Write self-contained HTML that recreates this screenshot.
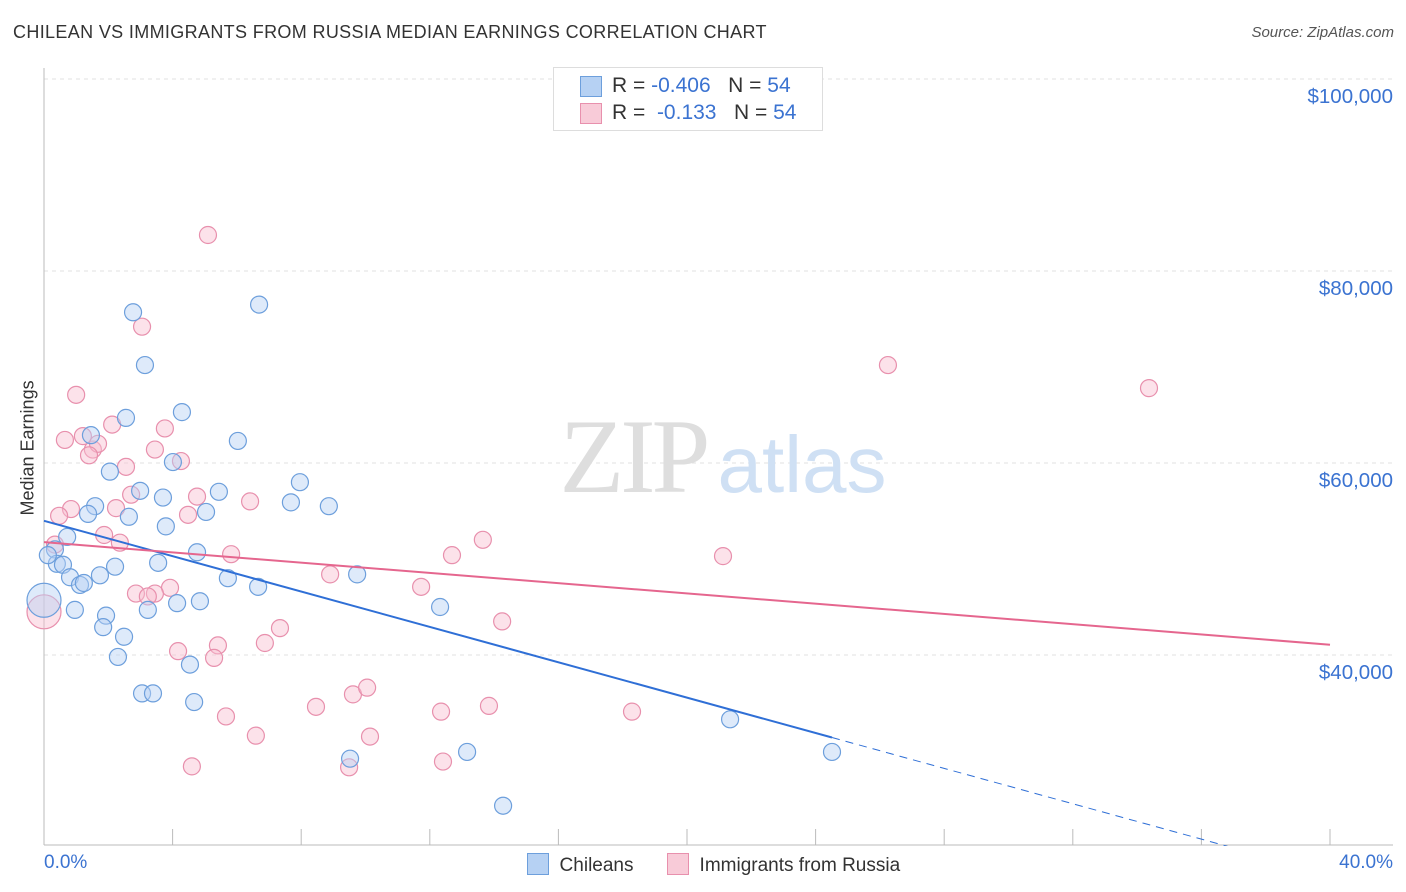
<!DOCTYPE html>
<html><head><meta charset="utf-8"><style>
body{margin:0;background:#fff;font-family:"Liberation Sans",sans-serif;}
#wrap{position:relative;width:1406px;height:892px;overflow:hidden;}
.t{position:absolute;white-space:nowrap;}
</style></head><body>
<div id="wrap">
<div class="t" style="left:13px;top:22px;font-size:18px;color:#333;letter-spacing:0.35px">CHILEAN VS IMMIGRANTS FROM RUSSIA MEDIAN EARNINGS CORRELATION CHART</div>
<div class="t" style="right:12px;top:24px;font-size:15px;color:#555;font-style:italic">Source: ZipAtlas.com</div>
<svg id="svg" width="1406" height="892" style="position:absolute;left:0;top:0"></svg>
</div>
<script>
const yTicks=[40000,60000,80000,100000];
const yTickLabels=["$40,000","$60,000","$80,000","$100,000"];
const xLabels=["0.0%","40.0%"];
const chileX=[2.77,6.69,3.14,2.55,4.29,6.03,1.46,4.01,2.05,7.96,2.99,1.59,3.70,5.44,1.37,2.64,5.04,7.68,8.86,3.79,0.72,0.34,4.76,0.40,0.59,3.55,2.21,0.81,1.74,1.12,5.72,6.66,9.74,0,0.96,1.93,3.23,4.14,4.85,12.32,1.84,2.49,2.30,4.54,3.05,3.39,4.67,21.34,9.52,13.16,24.51,14.28,0.12,1.24];
const chileY=[75.7,76.5,70.2,64.7,65.3,62.3,62.9,60.1,59.1,58.0,57.1,55.5,56.4,57.0,54.7,54.4,54.9,55.9,55.5,53.4,52.3,51.0,50.7,49.5,49.4,49.6,49.2,48.1,48.3,47.3,48.0,47.1,48.4,45.7,44.7,44.1,44.7,45.4,45.6,45.0,42.9,41.9,39.8,39.0,36.0,36.0,35.1,33.3,29.2,29.9,29.9,24.3,50.4,47.5];
const russX=[5.10,3.05,26.25,34.37,1.00,0.65,3.76,1.52,1.21,1.68,2.55,4.26,3.45,0.84,0.47,2.71,2.24,4.76,6.41,4.48,1.87,2.36,0.34,5.82,13.65,12.69,21.12,8.90,11.73,3.92,2.86,3.45,3.23,5.41,6.87,7.34,14.25,4.17,5.29,0,8.46,9.61,10.05,5.66,6.59,12.35,13.84,18.29,10.14,4.60,9.49,12.41,2.12,1.40];
const russY=[83.75,74.2,70.2,67.8,67.1,62.4,63.6,61.4,62.8,62.0,59.6,60.2,61.4,55.2,54.5,56.7,55.3,56.5,56.0,54.6,52.5,51.7,51.5,50.5,52.0,50.4,50.3,48.4,47.1,47.0,46.4,46.4,46.1,41.0,41.25,42.8,43.5,40.4,39.7,44.5,34.6,35.9,36.6,33.6,31.6,34.1,34.7,34.1,31.5,28.4,28.3,28.9,64.0,60.8];
const NS="http://www.w3.org/2000/svg";
const svg=document.getElementById('svg');
const X=v=>44+v*1286/40;
const Y=k=>79+(100-k)*9.6;
function el(t,a){const e=document.createElementNS(NS,t);for(const k in a)e.setAttribute(k,a[k]);svg.appendChild(e);return e;}
yTicks.forEach((v,i)=>{const y=Y(v/1000);
const g=el('line',{x1:44,x2:1393,y1:y,y2:y,stroke:'#e2e2e2','stroke-dasharray':'4,4'});


const t=el('text',{x:1393,y:y+24,'text-anchor':'end','font-size':20.5,fill:'#3b73d1','font-family':'Liberation Sans'});
t.textContent=yTickLabels[i];

});
const ax=el('line',{x1:44,x2:1393,y1:845,y2:845,stroke:'#bbb'});


const ay=el('line',{x1:44,x2:44,y1:68,y2:845,stroke:'#bbb'});


for(let i=0;i<=10;i++){const x=X(i*4);const tk=el('line',{x1:x,x2:x,y1:829,y2:845,stroke:'#bbb'});

}
const w1=el('text',{x:633,y:492,'text-anchor':'middle','font-size':106,fill:'#dedede','font-family':'Liberation Serif','letter-spacing':-4});w1.textContent='ZIP';


const w2=el('text',{x:802,y:492,'text-anchor':'middle','font-size':80,fill:'#cfe0f4','font-family':'Liberation Sans'});w2.textContent='atlas';


function dots(xs,ys,fill,stroke,name){xs.forEach((x,i)=>{const big=x===0;
const c=el('circle',{cx:X(x),cy:Y(ys[i]),r:big?17:8.5,fill:fill,'fill-opacity':0.45,stroke:stroke,'stroke-width':1.2});

});}
dots(russX,russY,'#f8bfd0','#e890ad','russia-point');
dots(chileX,chileY,'#b6d1f3','#6d9fdc','chilean-point');
function fit(xs,ys){const n=xs.length;let mx=0,my=0;xs.forEach((x,i)=>{mx+=x;my+=ys[i]});mx/=n;my/=n;let sxy=0,sxx=0;xs.forEach((x,i)=>{sxy+=(x-mx)*(ys[i]-my);sxx+=(x-mx)**2});const b=sxy/sxx;return [my-b*mx,b];}
const [ca,cb]=fit(chileX,chileY);const cmax=Math.max(...chileX);
const l1=el('line',{x1:X(0),y1:Y(ca),x2:X(cmax),y2:Y(ca+cb*cmax),stroke:'#2f6fd6','stroke-width':2});


const l2=el('line',{x1:X(cmax),y1:Y(ca+cb*cmax),x2:X(40),y2:Y(ca+cb*40),stroke:'#2f6fd6','stroke-width':1,'stroke-dasharray':'8,6'});


const [ra,rb]=fit(russX,russY);
const l3=el('line',{x1:X(0),y1:Y(ra),x2:X(40),y2:Y(ra+rb*40),stroke:'#e5668e','stroke-width':2});


el('rect',{x:0,y:846,width:1406,height:50,fill:'#fff'});
</script>
<div class="t" style="left:-32px;top:445px;transform:rotate(-90deg);font-size:18px;color:#333;width:120px;text-align:center">Median Earnings</div>
<div class="t" style="left:44px;top:852px;font-size:19px;color:#3b73d1">0.0%</div>
<div class="t" style="right:13px;top:852px;font-size:19px;color:#3b73d1">40.0%</div>
<div style="position:absolute;left:553px;top:67px;width:268px;height:62px;border:1px solid #ddd;background:#fff;font-size:21px;color:#333">
<div style="position:absolute;left:26px;top:8px;width:20px;height:19px;background:#b6d1f3;border:1px solid #6d9fdc"></div>
<div class="t" style="left:58px;top:6px">R = <span style="color:#3b73d1">-0.406</span>&nbsp;&nbsp;&nbsp;N = <span style="color:#3b73d1">54</span></div>
<div style="position:absolute;left:26px;top:35px;width:20px;height:19px;background:#f8cbd8;border:1px solid #e890ad"></div>
<div class="t" style="left:58px;top:33px">R = &nbsp;<span style="color:#3b73d1">-0.133</span>&nbsp;&nbsp;&nbsp;N = <span style="color:#3b73d1">54</span></div>
</div>
<div style="position:absolute;left:527px;top:853px;font-size:19px;color:#333">
<span style="display:inline-block;width:20px;height:20px;background:#b6d1f3;border:1px solid #6d9fdc;vertical-align:-4px"></span>&nbsp; Chileans</div>
<div style="position:absolute;left:667px;top:853px;font-size:19px;color:#333">
<span style="display:inline-block;width:20px;height:20px;background:#f8cbd8;border:1px solid #e890ad;vertical-align:-4px"></span>&nbsp; Immigrants from Russia</div>
</body></html>
